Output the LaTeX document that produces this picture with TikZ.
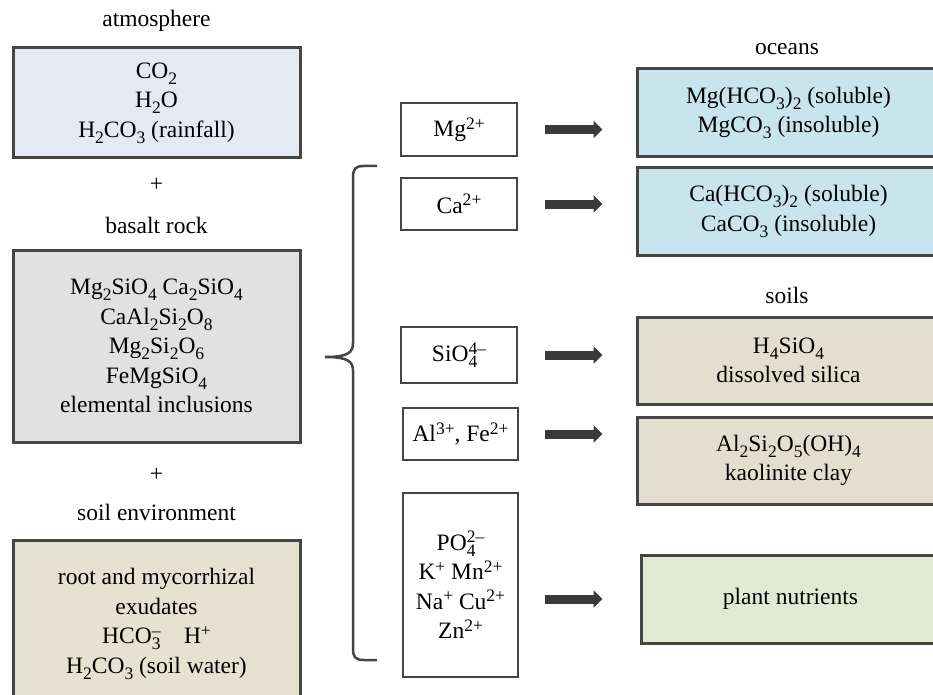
\documentclass[tikz,border=0pt]{standalone}
\usepackage{fontspec}
\setmainfont{Liberation Serif}
\usetikzlibrary{arrows.meta}
\newcommand\sbs[1]{\raisebox{-6pt}{\fontsize{17.5}{17.5}\selectfont #1}}
\newcommand\sps[1]{\raisebox{7.5pt}{\fontsize{17.5}{17.5}\selectfont #1}}
\newcommand\ssb[2]{\rlap{\sbs{#1}}\sps{#2}}
\definecolor{atmc}{HTML}{E3EAF4}
\definecolor{basc}{HTML}{E1E1E1}
\definecolor{soilc}{HTML}{E5E2D2}
\definecolor{oceanc}{HTML}{C8E4EC}
\definecolor{soilsc}{HTML}{E2DFCE}
\definecolor{plantc}{HTML}{E1EAD2}
\definecolor{edgec}{HTML}{454545}
\definecolor{arrc}{HTML}{3A3A3A}
\begin{document}
\begin{tikzpicture}[x=1pt,y=-1pt,
  every node/.style={font=\fontsize{23.5}{29.5}\selectfont, text=black},
  bigbox/.style={draw=edgec, line width=3pt, inner sep=0pt, align=center},
  ionbox/.style={draw=edgec, line width=2.3pt, fill=white, inner sep=0pt, align=center},
  lbl/.style={anchor=base, inner sep=0pt},
  fatarrow/.style={draw=arrc, line width=9pt, -{Triangle[width=17pt,length=9pt]}, shorten <=27pt},
  bracestyle/.style={draw=edgec, line width=2.5pt}
]
\useasboundingbox (0,0) rectangle (933,695);

% left column
\node[lbl] (latm) at (156.5,27) {atmosphere};
\node[bigbox, fill=atmc, minimum width=287pt, minimum height=110pt] (atm) at (156.5,103) {CO\sbs{2}\\H\sbs{2}O\\H\sbs{2}CO\sbs{3} (rainfall)};
\node[inner sep=0pt] (plus1) at (156.5,185) {+};
\node[lbl] (lbas) at (156.5,233) {basalt rock};
\node[bigbox, fill=basc, minimum width=287pt, minimum height=192pt] (bas) at (156.5,346) {Mg\sbs{2}SiO\sbs{4} Ca\sbs{2}SiO\sbs{4}\\CaAl\sbs{2}Si\sbs{2}O\sbs{8}\\Mg\sbs{2}Si\sbs{2}O\sbs{6}\\FeMgSiO\sbs{4}\\elemental inclusions};
\node[inner sep=0pt] (plus2) at (156.5,475) {+};
\node[lbl] (lsoil) at (156.5,520) {soil environment};
\node[bigbox, fill=soilc, minimum width=287pt, minimum height=164pt] (soil) at (156.5,622) {};
\node[align=center, inner sep=0pt] (soiltxt) at (156.5,624) {root and mycorrhizal\\exudates\\HCO\ssb{3}{–}\quad H\sps{+}\\H\sbs{2}CO\sbs{3} (soil water)};

% brace
\coordinate (bt) at (377,166);
\coordinate (bm) at (325,357);
\coordinate (bb) at (377,660);
\draw[bracestyle] (bt) -- (364,166) .. controls (355,166) and (353,169) .. (353,178)
  -- (353,343) .. controls (353,352) and (349,357) .. (bm)
  (bm) .. controls (349,357) and (353,362) .. (353,371)
  -- (353,648) .. controls (353,657) and (355,660) .. (364,660) -- (bb);

% middle column
\node[ionbox, minimum width=116pt, minimum height=53pt] (mg) at (459,129.5) {Mg\sps{2+}};
\node[ionbox, minimum width=116pt, minimum height=52pt] (ca) at (459,204) {Ca\sps{2+}};
\node[ionbox, minimum width=116pt, minimum height=56pt] (si) at (459,355) {SiO\ssb{4}{4–}};
\node[ionbox, minimum width=115pt, minimum height=52pt] (al) at (460.5,434) {Al\sps{3+}, Fe\sps{2+}};
\node[ionbox, minimum width=115pt, minimum height=184pt] (po) at (460.5,585) {PO\ssb{4}{2–}\\K\sps{+} Mn\sps{2+}\\Na\sps{+} Cu\sps{2+}\\Zn\sps{2+}};

% right column
\node[lbl] (locean) at (787,55) {oceans};
\node[bigbox, fill=oceanc, minimum width=303pt, minimum height=88pt] (oc1) at (788.5,113) {Mg(HCO\sbs{3})\sbs{2} (soluble)\\MgCO\sbs{3} (insoluble)};
\node[bigbox, fill=oceanc, minimum width=303pt, minimum height=87pt] (oc2) at (788.5,211.5) {Ca(HCO\sbs{3})\sbs{2} (soluble)\\CaCO\sbs{3} (insoluble)};
\node[lbl] (lsoils) at (787,303) {soils};
\node[bigbox, fill=soilsc, minimum width=303pt, minimum height=87pt] (so1) at (788.5,360.5) {H\sbs{4}SiO\sbs{4}\\dissolved silica};
\node[bigbox, fill=soilsc, minimum width=303pt, minimum height=87pt] (so2) at (788.5,460.5) {Al\sbs{2}Si\sbs{2}O\sbs{5}(OH)\sbs{4}\\kaolinite clay};
\node[bigbox, fill=plantc, minimum width=299pt, minimum height=88pt] (pl) at (790.5,599) {plant nutrients};

% arrows
\draw[fatarrow, shorten >=33pt] (mg.east) -- (mg.east -| oc1.west);
\draw[fatarrow, shorten >=33pt] (ca.east) -- (ca.east -| oc2.west);
\draw[fatarrow, shorten >=33pt] (si.east) -- (si.east -| so1.west);
\draw[fatarrow, shorten >=33pt, shorten <=26pt] (al.east) -- (al.east -| so2.west);
\draw[fatarrow, shorten >=37pt, shorten <=26pt] (po.east |- pl.west) -- (pl.west);
\end{tikzpicture}
\end{document}
